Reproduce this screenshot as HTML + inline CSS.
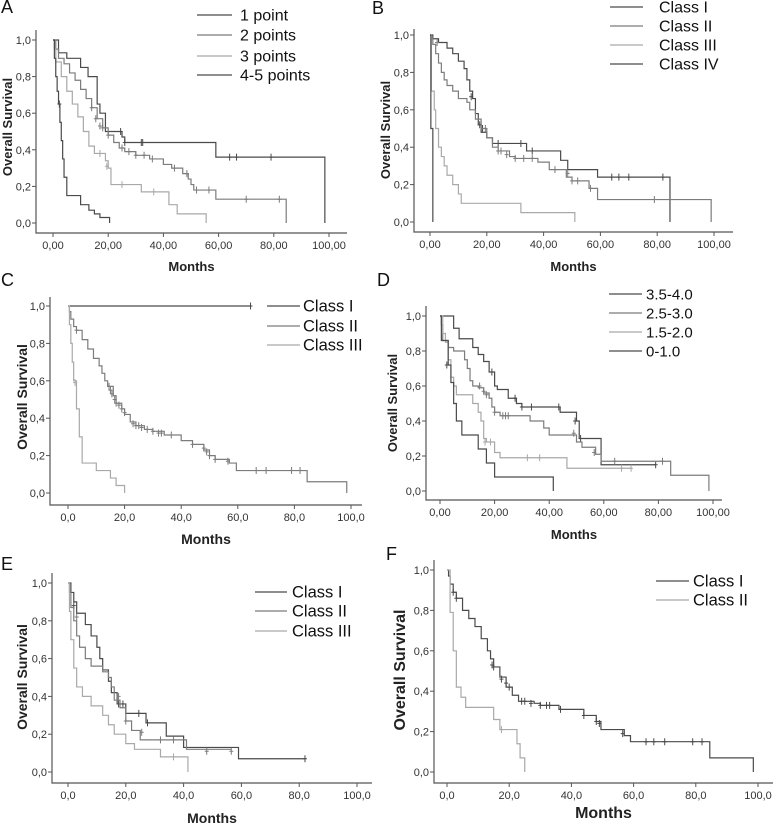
<!DOCTYPE html>
<html><head><meta charset="utf-8"><style>
html,body{margin:0;padding:0;background:#fff}
svg{display:block}
text{font-family:"Liberation Sans",Arial,sans-serif}
</style></head><body>
<svg id="fig" width="777" height="828" viewBox="0 0 777 828" xmlns="http://www.w3.org/2000/svg"></svg>
<script>
// ---------- tick labels ----------
const yTickVals = [0,0.2,0.4,0.6,0.8,1.0];
const yTickLabels = ["0,0","0,2","0,4","0,6","0,8","1,0"];
const xTickVals = [0,20,40,60,80,100];
const xTickLabels2 = ["0,00","20,00","40,00","60,00","80,00","100,00"];
const xTickLabels1 = ["0,0","20,0","40,0","60,0","80,0","100,0"];

// ---------- Panel A ----------
const aNames = ["1 point","2 points","3 points","4-5 points"];
const a1T=[2,5,10,12.7,16,17,19,25,26,59,98.5], a1S=[0.93,0.9,0.85,0.8,0.65,0.6,0.5,0.47,0.44,0.36,0];
const a1CT=[24.5,26,32,32.5,64,66.5,79], a1CS=[0.5,0.44,0.44,0.44,0.36,0.36,0.36];
const a2T=[1,2,4,6,8,10,12,14,16,18,20,22,24,26,30,35,40,43,47,49,50,51,59,84.5], a2S=[0.95,0.9,0.87,0.82,0.78,0.73,0.68,0.63,0.57,0.52,0.48,0.44,0.41,0.39,0.37,0.35,0.32,0.3,0.27,0.24,0.21,0.18,0.13,0];
const a2CT=[14,15.5,17,18,20,25,27.5,30,33,36,44,48.5,52,56.5,70,82], a2CS=[0.63,0.57,0.53,0.52,0.48,0.41,0.39,0.37,0.37,0.35,0.3,0.27,0.18,0.18,0.13,0.13];
const a3T=[0.5,1,3,5,7,9,11,13,15,19,20,21,32,42,45,55.5], a3S=[0.95,0.88,0.8,0.72,0.65,0.58,0.5,0.42,0.38,0.34,0.3,0.21,0.17,0.1,0.05,0];
const a3CT=[17,19.5,25,36.5], a3CS=[0.38,0.31,0.21,0.17];
const a4T=[0.5,1,1.5,2,2.5,3,3.5,4,5,10,13,15,17,20.5], a4S=[0.9,0.8,0.72,0.65,0.55,0.45,0.35,0.25,0.15,0.1,0.07,0.05,0.03,0];
const a4CT=[2.3], a4CS=[0.65];

// ---------- Panel B ----------
const bNames = ["Class I","Class II","Class III","Class IV"];
const b1T=[0.5,1,3,6,8,10,12,13,14,15,16,17,18,20,22,34,46,48.5,59,84.5], b1S=[1,0.98,0.96,0.93,0.9,0.86,0.82,0.76,0.7,0.66,0.58,0.52,0.48,0.45,0.42,0.38,0.33,0.28,0.24,0];
const b1CT=[14.5,17.5,18.5,24,32,36,64,66.5,70,82], b1CS=[0.67,0.52,0.5,0.42,0.42,0.38,0.24,0.24,0.24,0.24];
const b2T=[0.5,1,2,3,4,5,6,8,10,13,14,16,18,20,22,24,28,30,38,42,48,50,56,59,99], b2S=[0.98,0.95,0.9,0.85,0.8,0.76,0.73,0.7,0.66,0.64,0.6,0.55,0.5,0.45,0.4,0.38,0.35,0.34,0.32,0.28,0.24,0.22,0.18,0.12,0];
const b2CT=[2.5,19.5,24,25,27,30,33,36,44,48.5,50,52,56.5,79], b2CS=[0.96,0.5,0.38,0.38,0.36,0.34,0.34,0.34,0.28,0.26,0.22,0.22,0.18,0.12];
const b3T=[0.5,1.5,2,3,4,5,6,8,10,11,32,51], b3S=[0.7,0.6,0.5,0.4,0.35,0.3,0.25,0.2,0.15,0.1,0.05,0];
const b3CT=[], b3CS=[];
const b4T=[0.3,1], b4S=[0.5,0];
const b4CT=[], b4CS=[];

// ---------- Panel C ----------
const cNames = ["Class I","Class II","Class III"];
const c1T=[64.5], c1S=[1];
const c1CT=[64.5], c1CS=[1];
const c2T=[0.5,1,2,3,5,7,9,11,12,13,14,16,17,19,20,22,24,27,30,34,40,44,48,50,52,57,59.5,84.5,98.5], c2S=[0.97,0.93,0.89,0.87,0.82,0.77,0.72,0.68,0.64,0.6,0.57,0.52,0.48,0.45,0.42,0.38,0.36,0.34,0.33,0.31,0.28,0.26,0.23,0.2,0.18,0.16,0.12,0.06,0];
const c2CT=[3,14.5,15,15.5,16.5,17,18,19,20,23,24,25,26,28,30,32,33,36.5,44,48,49,50,52,56.5,66.5,70,79,82], c2CS=[0.87,0.57,0.55,0.53,0.5,0.48,0.47,0.45,0.43,0.37,0.36,0.36,0.35,0.34,0.33,0.32,0.32,0.31,0.26,0.24,0.22,0.2,0.18,0.17,0.12,0.12,0.12,0.12];
const c3T=[0.5,1,1.5,2,3,4,5,10,15,17,20], c3S=[0.9,0.8,0.7,0.6,0.45,0.3,0.16,0.12,0.08,0.04,0];
const c3CT=[2.5], c3CS=[0.59];

// ---------- Panel D ----------
const dNames = ["3.5-4.0","2.5-3.0","1.5-2.0","0-1.0"];
const d1T=[5,7,12,14,16,18,20,21,25,28,30,44,50,51,59,79], d1S=[0.93,0.87,0.82,0.78,0.74,0.68,0.6,0.58,0.53,0.5,0.48,0.45,0.4,0.3,0.15,0.15];
const d1CT=[19,27.5,30,33.5,43.5,49.5,51.5,79], d1CS=[0.68,0.53,0.48,0.48,0.48,0.4,0.3,0.15];
const d2T=[0.5,1,3,5,9,10,11,12,14,16,18,19,20,22,33,38,40,50,52,57,59,84.5,98.5], d2S=[0.95,0.86,0.82,0.8,0.75,0.7,0.63,0.6,0.59,0.56,0.53,0.48,0.45,0.43,0.4,0.36,0.32,0.28,0.25,0.21,0.17,0.09,0];
const d2CT=[14.5,16,17,20,23,24,25,49,56.5,64,81.5], d2CS=[0.6,0.57,0.55,0.45,0.43,0.43,0.43,0.33,0.22,0.17,0.17];
const d3T=[1,2,3,4,5,6,12,14,15,16,17,20,22,46.5,70], d3S=[0.9,0.85,0.75,0.65,0.6,0.55,0.5,0.45,0.4,0.3,0.28,0.22,0.19,0.13,0.13];
const d3CT=[16.5,18.5,32,36.5,66.5,70], d3CS=[0.28,0.28,0.19,0.19,0.13,0.13];
const d4T=[0.5,3,4,5,6,8,14,17,20,41.5], d4S=[0.86,0.72,0.62,0.5,0.4,0.32,0.24,0.16,0.08,0];
const d4CT=[2.5], d4CS=[0.72];

// ---------- Panel E ----------
const eNames = ["Class I","Class II","Class III"];
const e1T=[1,2,3,6,8,10,11,12,14,15,17,20,27,34,40,59,82], e1S=[0.95,0.9,0.84,0.78,0.72,0.66,0.6,0.54,0.48,0.42,0.36,0.31,0.26,0.19,0.13,0.07,0.07];
const e1CT=[2,17.5,19,24.5,27.5,82], e1CS=[0.88,0.36,0.36,0.31,0.26,0.07];
const e2T=[0.5,1,2,3,4,6,8,12,14,15,16,18,20,22,25,41,56.5], e2S=[0.95,0.87,0.8,0.72,0.66,0.6,0.56,0.53,0.5,0.45,0.38,0.34,0.27,0.22,0.17,0.12,0.12];
const e2CT=[3,17.5,20,25.5,32,36.5,48,56.5], e2CS=[0.82,0.4,0.27,0.21,0.17,0.17,0.11,0.11];
const e3T=[0.5,1,2,3,5,8,12,14,16,20,23,32,41.5], e3S=[0.85,0.7,0.55,0.45,0.4,0.35,0.3,0.25,0.2,0.15,0.12,0.08,0];
const e3CT=[36.5], e3CS=[0.08];

// ---------- Panel F ----------
const fNames = ["Class I","Class II"];
const f1T=[0.5,1,2,3,5,7,9,11,13,14,15,17,19,21,23,28,30,36,44,48,49.5,57,59,84.5,98.5], f1S=[0.97,0.93,0.89,0.86,0.8,0.76,0.72,0.66,0.6,0.56,0.52,0.47,0.42,0.38,0.35,0.34,0.33,0.31,0.28,0.25,0.21,0.18,0.15,0.07,0];
const f1CT=[2,3,14.5,15,17.5,19,20,24,25,27,30,32,33,36.5,44,48,49,56.5,64,66.5,70,79,82], f1CS=[0.89,0.86,0.53,0.52,0.46,0.44,0.42,0.35,0.35,0.34,0.33,0.33,0.33,0.31,0.28,0.25,0.24,0.19,0.15,0.15,0.15,0.15,0.15];
const f2T=[1,2,3,4.5,6,15,17,22.5,23.5,25], f2S=[0.79,0.6,0.42,0.37,0.32,0.26,0.21,0.14,0.07,0];
const f2CT=[17.5], f2CS=[0.21];

const DARK="#4a4a4a", MID="#7c7c7c", LIGHT="#a9a9a9";
const svg=document.getElementById('fig');
const NS="http://www.w3.org/2000/svg";
function mk(tag,attrs,parent){const e=document.createElementNS(NS,tag);for(const k in attrs)e.setAttribute(k,attrs[k]);(parent||svg).appendChild(e);return e;}

function panel(p){
  const g=mk('g',{});
  
  
  const X=v=>p.x0+(p.x100-p.x0)*v/100;
  const Y=v=>p.y0+(p.y1-p.y0)*v;
  // letter
  const L=mk('text',{x:p.lx,y:p.ly,'font-size':18,fill:'#111'},g);L.textContent=p.id;
  
  
  // axes
  const ax=mk('path',{d:`M${p.axL},${p.axT}V${p.axB}H${p.axR}`,stroke:'#555',fill:'none','stroke-width':1.2},g);
  
  
  yTickVals.forEach((v,i)=>{
    mk('line',{x1:p.axL-4,x2:p.axL,y1:Y(v),y2:Y(v),stroke:'#555'},g);
    const t=mk('text',{x:p.axL-5,y:Y(v)+4,'font-size':11,'text-anchor':'end',fill:'#333'},g);
    t.textContent=yTickLabels[i];
    
    
  });
  xTickVals.forEach((v,i)=>{
    mk('line',{x1:X(v),x2:X(v),y1:p.axB,y2:p.axB+4,stroke:'#555'},g);
    const t=mk('text',{x:X(v),y:p.axB+16,'font-size':11,'text-anchor':'middle',fill:'#333'},g);
    t.textContent=p.xl[i];
    
    
  });
  const xt=mk('text',{x:(p.axL+p.axR)/2,y:p.mY,'font-size':p.fs,'font-weight':'bold','text-anchor':'middle',fill:'#222'},g);
  xt.textContent='Months';
  
  
  const yt=mk('text',{x:0,y:0,'font-size':p.fs,'font-weight':'bold','text-anchor':'middle',fill:'#222',transform:`translate(${p.tX},${p.tY}) rotate(-90)`},g);
  yt.textContent='Overall Survival';
  
  
  p.series.forEach((s,i)=>{
    let d=`M${X(0)},${Y(1)}`;
    s.t.forEach((t,j)=>{d+=`H${X(t)}V${Y(s.s[j])}`;});
    const path=mk('path',{d,stroke:s.c,fill:'none','stroke-width':1.2},g);
    
    
    s.ct.forEach((t,j)=>{
      const cx=X(t),cy=Y(s.cs[j]);
      const m=mk('path',{d:`M${cx},${cy-3.5}V${cy+3.5}M${cx-2},${cy}H${cx+2}`,stroke:s.c,'stroke-width':1},g);
      
      
    });
    const ly=p.legY[i];
    mk('line',{x1:p.legX1,x2:p.legX2,y1:ly,y2:ly,stroke:s.c,'stroke-width':1.2},g);
    const lt=mk('text',{x:p.legT,y:ly+5.5,'font-size':p.lfs,fill:'#111'},g);
    lt.textContent=s.n;
    
    
  });
}

panel({id:'A',lx:1,ly:13,x0:53,x100:329,y0:223,y1:40,axL:36,axT:30,axB:233,axR:347,xl:xTickLabels2,mY:271,fs:13,tX:12,tY:127,
  legX1:197,legX2:232,legT:240,legY:[15,35,56,75],lfs:16,
  series:[{n:aNames[0],t:a1T,s:a1S,ct:a1CT,cs:a1CS,c:DARK},{n:aNames[1],t:a2T,s:a2S,ct:a2CT,cs:a2CS,c:MID},{n:aNames[2],t:a3T,s:a3S,ct:a3CT,cs:a3CS,c:LIGHT},{n:aNames[3],t:a4T,s:a4S,ct:a4CT,cs:a4CS,c:DARK}]});
panel({id:'B',lx:372,ly:14,x0:430,x100:714,y0:222,y1:35,axL:414,axT:29,axB:232,axR:733,xl:xTickLabels2,mY:271,fs:13,tX:390,tY:130,
  legX1:610,legX2:643,legT:659,legY:[7,26,45,64],lfs:16,
  series:[{n:bNames[0],t:b1T,s:b1S,ct:b1CT,cs:b1CS,c:DARK},{n:bNames[1],t:b2T,s:b2S,ct:b2CT,cs:b2CS,c:MID},{n:bNames[2],t:b3T,s:b3S,ct:b3CT,cs:b3CS,c:LIGHT},{n:bNames[3],t:b4T,s:b4S,ct:b4CT,cs:b4CS,c:DARK}]});
panel({id:'C',lx:1,ly:286,x0:68,x100:351,y0:493,y1:306,axL:50,axT:297,axB:505,axR:362,xl:xTickLabels1,mY:544,fs:14,tX:27,tY:397,
  legX1:267,legX2:300,legT:303,legY:[306,326,345],lfs:16.5,
  series:[{n:cNames[0],t:c1T,s:c1S,ct:c1CT,cs:c1CS,c:DARK},{n:cNames[1],t:c2T,s:c2S,ct:c2CT,cs:c2CS,c:MID},{n:cNames[2],t:c3T,s:c3S,ct:c3CT,cs:c3CS,c:LIGHT}]});
panel({id:'D',lx:377,ly:286,x0:440,x100:713,y0:491,y1:316,axL:426,axT:306,axB:500,axR:722,xl:xTickLabels2,mY:539,fs:13,tX:397,tY:403,
  legX1:609,legX2:642,legT:646,legY:[294,313,332,351],lfs:15,
  series:[{n:dNames[0],t:d1T,s:d1S,ct:d1CT,cs:d1CS,c:DARK},{n:dNames[1],t:d2T,s:d2S,ct:d2CT,cs:d2CS,c:MID},{n:dNames[2],t:d3T,s:d3S,ct:d3CT,cs:d3CS,c:LIGHT},{n:dNames[3],t:d4T,s:d4S,ct:d4CT,cs:d4CS,c:DARK}]});
panel({id:'E',lx:1,ly:570,x0:68,x100:357,y0:772,y1:583,axL:52,axT:573,axB:783,axR:372,xl:xTickLabels1,mY:823,fs:14,tX:27,tY:677,
  legX1:255,legX2:287,legT:292,legY:[592,611,631],lfs:16.5,
  series:[{n:eNames[0],t:e1T,s:e1S,ct:e1CT,cs:e1CS,c:DARK},{n:eNames[1],t:e2T,s:e2S,ct:e2CT,cs:e2CS,c:MID},{n:eNames[2],t:e3T,s:e3S,ct:e3CT,cs:e3CS,c:LIGHT}]});
panel({id:'F',lx:386,ly:560,x0:447,x100:758,y0:772,y1:570,axL:434,axT:560,axB:783,axR:773,xl:xTickLabels1,mY:818,fs:16,tX:405,tY:670,
  legX1:656,legX2:689,legT:693,legY:[581,600],lfs:16.5,
  series:[{n:fNames[0],t:f1T,s:f1S,ct:f1CT,cs:f1CS,c:DARK},{n:fNames[1],t:f2T,s:f2S,ct:f2CT,cs:f2CS,c:LIGHT}]});
</script>
</body></html>
